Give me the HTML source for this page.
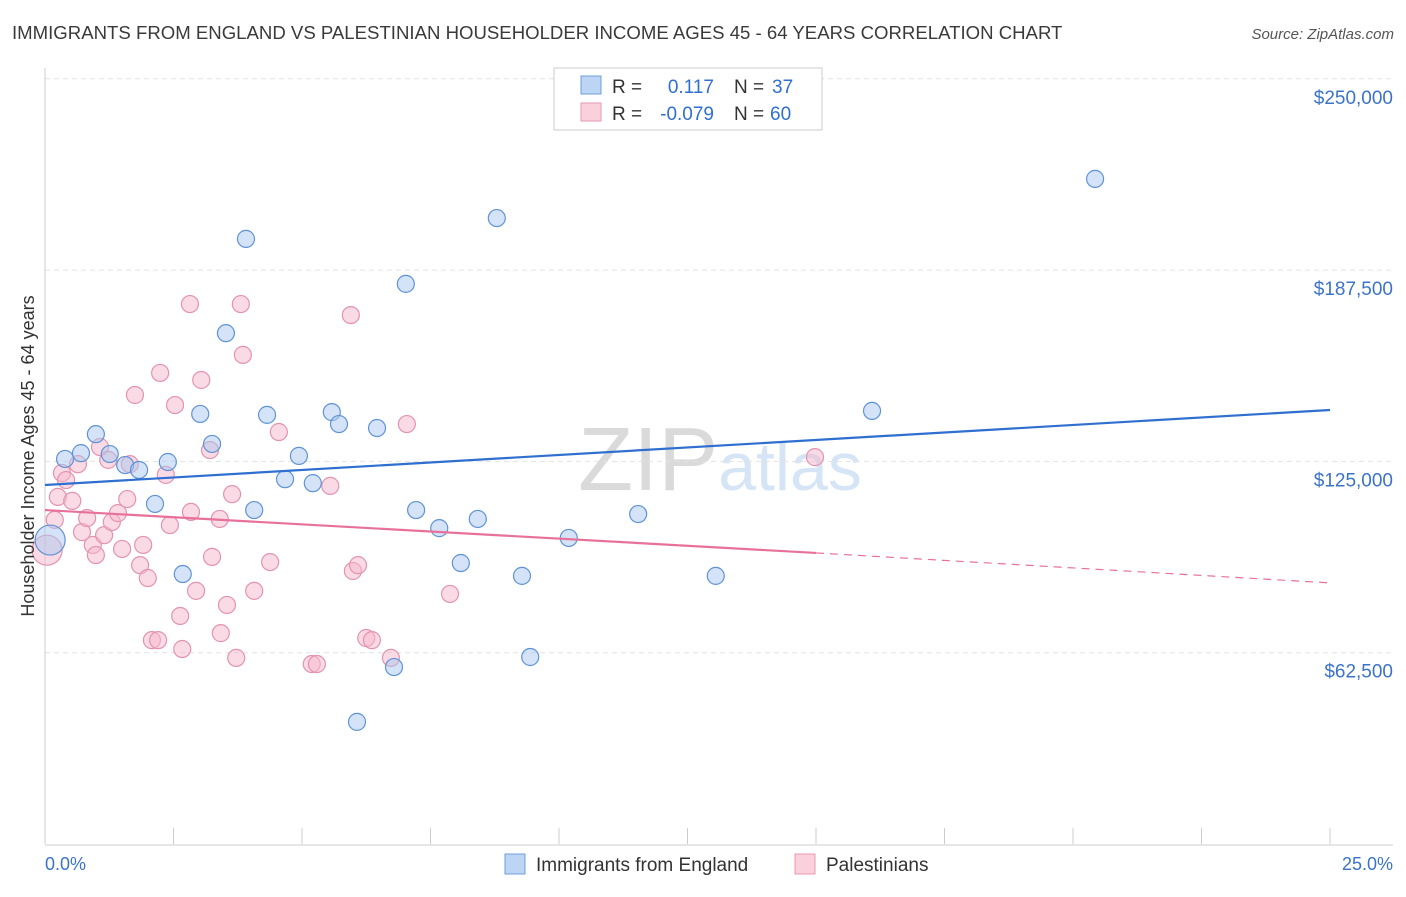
<!DOCTYPE html>
<html><head><meta charset="utf-8"><style>
body{margin:0;background:#fff;font-family:"Liberation Sans",sans-serif;}
svg text{font-family:"Liberation Sans",sans-serif;}
</style></head><body>
<svg id="chart" width="1406" height="892" xmlns="http://www.w3.org/2000/svg">
<text x="12" y="39" font-size="18.6" fill="#3a3a3a">IMMIGRANTS FROM ENGLAND VS PALESTINIAN HOUSEHOLDER INCOME AGES 45 - 64 YEARS CORRELATION CHART</text>
<text x="1394" y="39" font-size="15" fill="#555" text-anchor="end" font-style="italic">Source: ZipAtlas.com</text>
<text x="720" y="490" font-size="90" fill="#dcdcdc" text-anchor="middle" font-family="Liberation Serif"><tspan fill="#dadada">ZIP</tspan><tspan fill="#d6e5f6" font-family="Liberation Sans" font-size="68">atlas</tspan></text>
<g id="grid"></g>
<g id="axes"></g>
<g id="marks"></g>
<text transform="translate(34,456) rotate(-90)" font-size="18" fill="#333" text-anchor="middle">Householder Income Ages 45 - 64 years</text>
<text x="45" y="870" font-size="18" fill="#3b73c8">0.0%</text>
<text x="1393" y="870" font-size="18" fill="#3b73c8" text-anchor="end">25.0%</text>
<g>
<rect x="554" y="68" width="268" height="62" fill="#fff" stroke="#ccc"/>
<rect x="581" y="76" width="20" height="18" fill="#bcd5f4" stroke="#6f9fdc"/>
<rect x="581" y="103" width="20" height="18" fill="#fbd0dd" stroke="#e89ab3"/>
<text x="612" y="93" font-size="19" fill="#333">R =</text>
<text x="714" y="93" font-size="19" fill="#2f6fd0" text-anchor="end">0.117</text>
<text x="734" y="93" font-size="19" fill="#333">N =</text>
<text x="772" y="93" font-size="19" fill="#2f6fd0">37</text>
<text x="612" y="120" font-size="19" fill="#333">R =</text>
<text x="714" y="120" font-size="19" fill="#2f6fd0" text-anchor="end">-0.079</text>
<text x="734" y="120" font-size="19" fill="#333">N =</text>
<text x="770" y="120" font-size="19" fill="#2f6fd0">60</text>
</g>
<g>
<rect x="505" y="854" width="20" height="20" fill="#bcd5f4" stroke="#6f9fdc"/>
<text x="536" y="871" font-size="19" fill="#333">Immigrants from England</text>
<rect x="795" y="854" width="20" height="20" fill="#fbd0dd" stroke="#e89ab3"/>
<text x="826" y="871" font-size="19" fill="#333">Palestinians</text>
</g>
</svg>
<script>
const yTicks=[62500,125000,187500,250000];
const yTickLabels=["$62,500","$125,000","$187,500","$250,000"];
const blueX=[0.39,0.70,0.99,1.26,1.56,1.83,2.14,2.39,2.68,3.02,3.25,3.52,3.91,4.07,4.32,4.67,4.94,5.21,5.58,5.72,6.07,6.46,6.79,7.02,7.22,7.67,8.09,8.42,8.79,9.28,9.44,10.19,11.54,13.05,16.09,20.43,0.10];
const blueY=[125800,127700,133900,127400,123800,122200,111100,124800,88200,140500,130700,166900,197700,109100,140200,119200,126800,117900,141100,137200,39900,135900,57800,183000,109100,103200,91800,106200,204500,87600,61100,100000,107800,87600,141500,217300,99300];
const pinkX=[0.04,0.19,0.25,0.33,0.41,0.53,0.64,0.72,0.82,0.93,0.99,1.07,1.15,1.23,1.30,1.42,1.50,1.60,1.65,1.75,1.85,1.91,2.00,2.08,2.20,2.24,2.35,2.43,2.53,2.63,2.67,2.82,2.84,2.94,3.04,3.21,3.25,3.40,3.42,3.54,3.64,3.72,3.81,3.85,4.07,4.38,4.55,5.19,5.29,5.55,5.95,5.99,6.09,6.25,6.36,6.73,7.04,7.88,14.98];
const pinkY=[96000,105900,113400,121200,118900,112100,124100,101900,106500,97700,94400,129700,100900,125500,105200,108100,96400,112700,124100,146700,91100,97700,86900,66600,66600,153900,120600,104200,143400,74500,63700,176400,108500,82700,151600,128700,93800,106200,68900,78100,114300,60800,176400,159800,82700,92100,134600,58800,58800,117000,172800,89200,91100,67300,66600,60800,137200,81700,126400];
const blueTrend=[117300,141800];
const pinkTrend=[109100,95100,85300];
const NS="http://www.w3.org/2000/svg";
const X0=45,X1=1330,Y0=844,YPER=191.3/62500;
const xs=v=>X0+(v/25)*(X1-X0);
const ys=v=>Y0-v*YPER;
function mk(t,a,p){const e=document.createElementNS(NS,t);for(const k in a)e.setAttribute(k,a[k]);p.appendChild(e);return e;}
const grid=document.getElementById('grid'),axes=document.getElementById('axes'),marks=document.getElementById('marks');
yTicks.forEach((t,i)=>{
 const l=mk('line',{x1:X0,x2:1393,y1:ys(t),y2:ys(t),stroke:'#e2e2e2','stroke-dasharray':'5,4'},grid);
 
 
 const tx=mk('text',{x:1393,y:ys(t)+25,'font-size':19,fill:'#3b73c8','text-anchor':'end'},axes);
 tx.textContent=yTickLabels[i];
 
 
});
const ax=mk('line',{x1:X0,x2:1393,y1:Y0+1,y2:Y0+1,stroke:'#ccc'},axes);


const ay=mk('line',{x1:X0,x2:X0,y1:68,y2:Y0,stroke:'#ccc'},axes);


for(let i=1;i<=10;i++){const v=i*2.5;const t=mk('line',{x1:xs(v),x2:xs(v),y1:828,y2:Y0,stroke:'#ccc'},axes);
 
 }
function dots(X,Y,fill,stroke,name){X.forEach((x,i)=>{
 const big=(i===X.length-1&&name==='blue-point')||(i===0&&name==='pink-point');
 const c=mk('circle',{cx:xs(x),cy:ys(Y[i]),r:big?15:8.5,fill:fill,'fill-opacity':0.5,stroke:stroke,'stroke-width':1.2},marks);
 
 });}
dots(pinkX,pinkY,'#f6b8cc','#e493ae','pink-point');
dots(blueX,blueY,'#a9c8ef','#5f93d6','blue-point');
const bl=mk('line',{x1:xs(0),y1:ys(blueTrend[0]),x2:xs(25),y2:ys(blueTrend[1]),stroke:'#2f6fd0','stroke-width':2.2},marks);


const pl=mk('line',{x1:xs(0),y1:ys(pinkTrend[0]),x2:xs(15),y2:ys(pinkTrend[1]),stroke:'#e8719a','stroke-width':2.2},marks);


const pd=mk('line',{x1:xs(15),y1:ys(pinkTrend[1]),x2:xs(25),y2:ys(pinkTrend[2]),stroke:'#e8719a','stroke-width':1.2,'stroke-dasharray':'8,6'},marks);


</script>
</body></html>
